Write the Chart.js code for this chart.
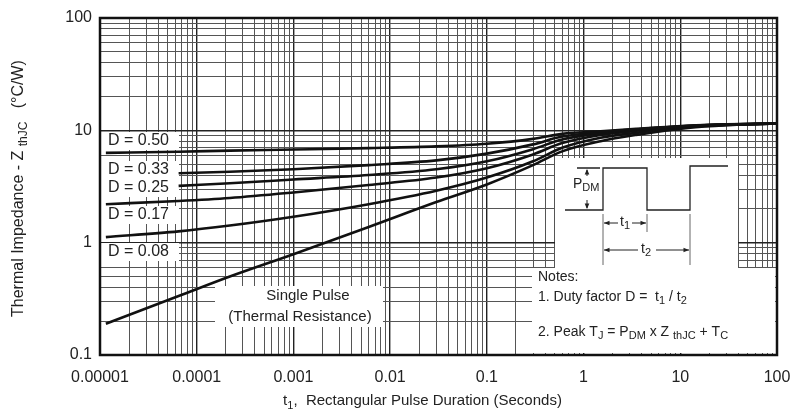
<!DOCTYPE html>
<html>
<head>
<meta charset="utf-8">
<script src="https://cdn.jsdelivr.net/npm/chart.js@4/dist/chart.umd.min.js"></script>
<style>
    html, body { margin: 0; padding: 0; background: #fff; }
</style>
</head>
<body>
<canvas id="thermalChart" width="791" height="415"></canvas>
<script>
// pulse durations (s) shared by every curve
const pulseTimes = [1.15e-5, 6.5e-5, 2.2e-4, 1e-3, 6e-3, 0.03, 0.1, 0.3, 0.6, 1.5, 3.5, 12, 30, 100];

// Zth (degC/W) for each duty factor
const zD050 = [6.3, 6.45, 6.6, 6.75, 6.95, 7.2, 7.6, 8.4, 9.3, 9.8, 10.3, 11.0, 11.3, 11.5];
const zD033 = [null, 4.15, 4.28, 4.5, 4.9, 5.4, 6.2, 7.5, 8.8, 9.6, 10.2, 10.95, 11.3, 11.5];
const zD025 = [null, 3.2, 3.38, 3.65, 4.0, 4.5, 5.3, 6.8, 8.3, 9.4, 10.1, 10.9, 11.25, 11.5];
const zD017 = [2.2, 2.35, 2.5, 2.8, 3.26, 3.8, 4.6, 6.1, 7.7, 9.1, 9.9, 10.8, 11.2, 11.5];
const zD008 = [1.12, 1.26, 1.42, 1.7, 2.2, 2.9, 3.8, 5.3, 7.0, 8.6, 9.5, 10.7, 11.15, 11.5];
const zSingle = [0.19, 0.335, 0.5, 0.79, 1.38, 2.3, 3.3, 4.9, 6.5, 8.0, 9.1, 10.5, 11.1, 11.5];

const dutyLabels = ["D = 0.50", "D = 0.33", "D = 0.25", "D = 0.17", "D = 0.08"];

const xDecades = [1e-5, 1e-4, 1e-3, 1e-2, 0.1, 1, 10, 100];
const xTickLabels = ["0.00001", "0.0001", "0.001", "0.01", "0.1", "1", "10", "100"];
const yDecades = [0.1, 1, 10, 100];
const yTickLabels = ["0.1", "1", "10", "100"];

const FONT = '"Liberation Sans", Arial, sans-serif';

// 1..9 grid lines in each decade
const gridValues = (decades) => {
    const vals = [];
    decades.forEach((d, i) => {
        if (i === decades.length - 1) { vals.push(d); return; }
        for (let m = 1; m <= 9; m++) vals.push(Number((m * d).toPrecision(3)));
    });
    return vals;
};

const isDecade = (decades, v) => decades.findIndex(d => Math.abs(v - d) / d < 1e-6);

const makeSeries = (values) => pulseTimes
    .map((t, i) => ({ x: t, y: values[i] }))
    .filter(p => p.y !== null);

// draw text with subscript parts: [[text, isSub], ...]
const richText = (ctx, parts, x, y, size) => {
    let cx = x;
    parts.forEach(([t, s]) => {
        const fs = s ? Math.round(size * 0.75) : size;
        ctx.font = `${fs}px ${FONT}`;
        ctx.fillText(t, cx, y + (s ? size * 0.3 : 0));
        cx += ctx.measureText(t).width;
    });
    return cx;
};

const richWidth = (ctx, parts, size) => parts.reduce((w, [t, s]) => {
    ctx.font = `${s ? Math.round(size * 0.75) : size}px ${FONT}`;
    return w + ctx.measureText(t).width;
}, 0);

const annotations = {
    id: "annotations",
    beforeDatasetsDraw(chart) {
        const { ctx, chartArea: ca } = chart;
        // page coords written for a plot area at (100,18)
        const X = (x) => ca.left + x - 100;
        const Y = (y) => ca.top + y - 18;
        ctx.save();
        ctx.fillStyle = "#fff";
        // duty factor label boxes
        const boxYs = [141, 170, 188, 215, 252];
        boxYs.forEach(y => ctx.fillRect(X(101), Y(y - 9), 78, 18));
        // single pulse box
        ctx.fillRect(X(215), Y(286), 168, 41);
        // diagram + notes boxes
        ctx.fillRect(X(555), Y(158), 183, 112);
        ctx.fillRect(X(532), Y(268), 243, 85);

        ctx.fillStyle = "#222";
        ctx.textBaseline = "middle";
        ctx.textAlign = "left";
        ctx.font = `16px ${FONT}`;
        dutyLabels.forEach((t, i) => ctx.fillText(t, X(108), Y(boxYs[i])));

        ctx.textAlign = "center";
        ctx.font = `15px ${FONT}`;
        ctx.fillText("Single Pulse", X(308), Y(296));
        ctx.fillText("(Thermal Resistance)", X(300), Y(317));

        // pulse train sketch
        ctx.strokeStyle = "#222";
        ctx.lineWidth = 1.3;
        ctx.beginPath();
        ctx.moveTo(X(565), Y(210));
        ctx.lineTo(X(603), Y(210));
        ctx.lineTo(X(603), Y(168));
        ctx.lineTo(X(647), Y(168));
        ctx.lineTo(X(647), Y(210));
        ctx.lineTo(X(690), Y(210));
        ctx.lineTo(X(690), Y(166));
        ctx.lineTo(X(728), Y(166));
        ctx.moveTo(X(577), Y(168));
        ctx.lineTo(X(600), Y(168));
        ctx.stroke();

        ctx.lineWidth = 1;
        ctx.strokeStyle = "#666";
        ctx.beginPath();
        ctx.moveTo(X(603), Y(214)); ctx.lineTo(X(603), Y(265));
        ctx.moveTo(X(647), Y(214)); ctx.lineTo(X(647), Y(232));
        ctx.moveTo(X(690), Y(214)); ctx.lineTo(X(690), Y(265));
        ctx.stroke();

        const arrow = (x1, y1, x2, y2) => {
            const a = Math.atan2(y2 - y1, x2 - x1);
            ctx.beginPath();
            ctx.moveTo(X(x2), Y(y2));
            ctx.lineTo(X(x2) - 6 * Math.cos(a - 0.4), Y(y2) - 6 * Math.sin(a - 0.4));
            ctx.lineTo(X(x2) - 6 * Math.cos(a + 0.4), Y(y2) - 6 * Math.sin(a + 0.4));
            ctx.closePath();
            ctx.fill();
        };
        ctx.strokeStyle = "#222";
        ctx.fillStyle = "#222";
        ctx.beginPath();
        ctx.moveTo(X(587), Y(170)); ctx.lineTo(X(587), Y(176));
        ctx.moveTo(X(587), Y(200)); ctx.lineTo(X(587), Y(208));
        ctx.moveTo(X(604), Y(223)); ctx.lineTo(X(618), Y(223));
        ctx.moveTo(X(632), Y(223)); ctx.lineTo(X(646), Y(223));
        ctx.moveTo(X(604), Y(250)); ctx.lineTo(X(638), Y(250));
        ctx.moveTo(X(656), Y(250)); ctx.lineTo(X(689), Y(250));
        ctx.stroke();
        arrow(587, 176, 587, 169);
        arrow(587, 200, 587, 209);
        arrow(612, 223, 604, 223);
        arrow(638, 223, 646, 223);
        arrow(612, 250, 604, 250);
        arrow(681, 250, 689, 250);

        ctx.textAlign = "left";
        richText(ctx, [["P", false], ["DM", true]], X(573), Y(184), 14);
        richText(ctx, [["t", false], ["1", true]], X(620), Y(222), 14);
        richText(ctx, [["t", false], ["2", true]], X(641), Y(249), 14);

        // notes
        ctx.font = `14px ${FONT}`;
        ctx.fillText("Notes:", X(538), Y(277));
        richText(ctx, [["1. Duty factor D =  t", false], ["1", true], [" / t", false], ["2", true]], X(538), Y(297), 14);
        richText(ctx, [["2. Peak T", false], ["J", true], [" = P", false], ["DM", true], [" x Z ", false], ["thJC", true], [" + T", false], ["C", true]], X(538), Y(332), 14);
        ctx.restore();
    },
    afterDraw(chart) {
        const { ctx, chartArea: ca } = chart;
        ctx.save();
        ctx.strokeStyle = "#111";
        ctx.lineWidth = 2.5;
        ctx.strokeRect(ca.left, ca.top, ca.right - ca.left, ca.bottom - ca.top);

        ctx.fillStyle = "#222";
        ctx.textBaseline = "middle";
        ctx.textAlign = "left";
        // x axis title
        const xParts = [["t", false], ["1", true], [",  Rectangular Pulse Duration (Seconds)", false]];
        let w = richWidth(ctx, xParts, 15);
        richText(ctx, xParts, (ca.left + ca.right) / 2 - 16 - w / 2, 401, 15);

        // y axis title
        const yParts = [["Thermal Impedance - Z ", false], ["thJC", true], ["   (\u00B0C/W)", false]];
        w = richWidth(ctx, yParts, 16);
        ctx.translate(19, (ca.top + ca.bottom) / 2 + 2);
        ctx.rotate(-Math.PI / 2);
        richText(ctx, yParts, -w / 2, 0, 16);
        ctx.restore();
    },
};

const lineStyle = {
    borderColor: "#111",
    borderWidth: 2.6,
    pointRadius: 0,
    showLine: true,
    fill: false,
    cubicInterpolationMode: "monotone",
};

const ctx = document.getElementById("thermalChart").getContext("2d");

new Chart(ctx, {
    type: "scatter",
    data: {
        datasets: [
            { label: dutyLabels[0], data: makeSeries(zD050), ...lineStyle },
            { label: dutyLabels[1], data: makeSeries(zD033), ...lineStyle },
            { label: dutyLabels[2], data: makeSeries(zD025), ...lineStyle },
            { label: dutyLabels[3], data: makeSeries(zD017), ...lineStyle },
            { label: dutyLabels[4], data: makeSeries(zD008), ...lineStyle },
            { label: "Single Pulse", data: makeSeries(zSingle), ...lineStyle },
        ],
    },
    options: {
        responsive: false,
        animation: false,
        devicePixelRatio: 1,
        layout: { padding: { left: 0, right: 14, top: 18, bottom: 0 } },
        plugins: {
            legend: { display: false },
            tooltip: { enabled: false },
        },
        scales: {
            x: {
                type: "logarithmic",
                min: 1e-5,
                max: 100,
                afterBuildTicks: (axis) => { axis.ticks = gridValues(xDecades).map(v => ({ value: v })); },
                afterFit: (axis) => {
                    axis.height = 60;
                    axis.paddingLeft = 0;
                    axis.paddingRight = 0;
                },
                grid: {
                    drawTicks: false,
                    color: (c) => isDecade(xDecades, c.tick.value) >= 0 ? "#222" : "#555",
                    lineWidth: (c) => isDecade(xDecades, c.tick.value) >= 0 ? 1.4 : 1,
                },
                border: { display: false },
                ticks: {
                    autoSkip: false,
                    maxRotation: 0,
                    padding: 13,
                    color: "#222",
                    font: { family: FONT, size: 16 },
                    callback: (v) => {
                        const i = isDecade(xDecades, v);
                        return i >= 0 ? xTickLabels[i] : "";
                    },
                },
            },
            y: {
                type: "logarithmic",
                min: 0.1,
                max: 100,
                afterBuildTicks: (axis) => { axis.ticks = gridValues(yDecades).map(v => ({ value: v })); },
                afterFit: (axis) => { axis.width = 100; },
                grid: {
                    drawTicks: false,
                    color: (c) => isDecade(yDecades, c.tick.value) >= 0 ? "#222" : "#555",
                    lineWidth: (c) => isDecade(yDecades, c.tick.value) >= 0 ? 1.4 : 1,
                },
                border: { display: false },
                ticks: {
                    autoSkip: false,
                    padding: 8,
                    color: "#222",
                    font: { family: FONT, size: 16 },
                    callback: (v) => {
                        const i = isDecade(yDecades, v);
                        return i >= 0 ? yTickLabels[i] : "";
                    },
                },
            },
        },
    },
    plugins: [annotations],
});
</script>
</body>
</html>
